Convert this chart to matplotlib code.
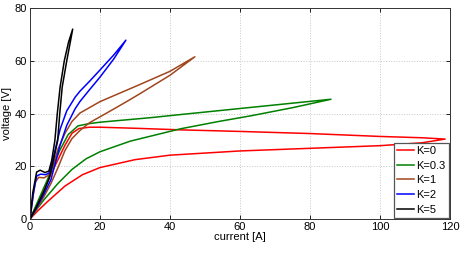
import matplotlib
matplotlib.use("Agg")
import matplotlib.pyplot as plt

# current [A] / voltage [V] along each branch, from origin to the tip of the loop
k_labels = ["K=0", "K=0.3", "K=1", "K=2", "K=5"]

k0_up_i = [0, 3, 6, 8, 10, 12, 14, 17, 20, 30, 43, 60, 80, 100, 112, 118.6]
k0_up_v = [0, 8, 17, 22.5, 28, 32.5, 34.3, 34.8, 34.8, 34.4, 33.8, 33.2, 32.4, 31.3, 30.8, 30.3]
k0_lo_i = [0, 2, 5, 10, 15, 20, 30, 40, 60, 80, 100, 112, 118.6]
k0_lo_v = [0, 2.8, 6.6, 12.5, 16.8, 19.5, 22.5, 24.2, 25.8, 26.8, 27.8, 28.9, 30.3]

k03_up_i = [0, 3, 6, 8.5, 10.9, 13.7, 16.6, 20, 34.3, 43, 63, 86]
k03_up_v = [0, 9, 18, 26, 32, 35.3, 36.1, 36.7, 38.4, 39.6, 42.3, 45.4]
k03_lo_i = [0, 2, 4, 8, 12, 16, 20, 28.6, 43, 54, 63, 75, 86]
k03_lo_v = [0, 3.8, 7.3, 13.5, 18.8, 22.8, 25.5, 29.5, 34.2, 37, 39.1, 42.2, 45.4]

k1_up_i = [0, 0.8, 1.5, 2.5, 4, 5.2, 6.5, 8, 10, 12, 14.3, 20, 31.4, 40, 47.1]
k1_up_v = [0, 8, 14, 15.8, 15.6, 16.5, 20, 26.5, 32.5, 37, 40.2, 44.5, 51, 56, 61.5]
k1_lo_i = [0, 2, 4, 6, 8, 10, 12, 14.3, 17, 23, 27.6, 31.4, 40, 47.1]
k1_lo_v = [0, 4, 8.5, 13.5, 19.5, 26, 30.5, 33.6, 36.5, 41, 44.5, 47.5, 54.5, 61.5]

k2_up_i = [0, 1, 1.9, 3, 4.5, 5.5, 6.2, 7.6, 8.6, 10.5, 12.9, 14.3, 17, 20, 24, 27.4]
k2_up_v = [0, 10, 16.3, 17, 16.8, 17.5, 21, 28.5, 34, 41, 46.2, 48.5, 52.2, 56.5, 62.3, 67.8]
k2_lo_i = [0, 2, 4, 6, 7.3, 8.6, 10.5, 12.9, 14.3, 17, 20, 24, 27.4]
k2_lo_v = [0, 4.5, 9.5, 15, 21.5, 28, 35.5, 41.8, 44.6, 49, 53.8, 60.8, 67.8]

k5_up_i = [0, 0.8, 1.9, 2.9, 4.3, 5.4, 6.2, 7.1, 7.8, 8.6, 9.8, 11, 12.2]
k5_up_v = [0, 10, 17.8, 18.5, 17.6, 18.2, 22.2, 29.7, 40, 50, 60, 67, 72]
k5_lo_i = [0, 2, 4, 5.5, 6.7, 7.9, 8.5, 9.2, 10.5, 11.5, 12.2]
k5_lo_v = [0, 5, 10.5, 15.5, 22.2, 29.7, 40, 50, 60, 67, 72]

x_ticks = [0, 20, 40, 60, 80, 100, 120]
y_ticks = [0, 20, 40, 60, 80]

colors = ["#FF0000", "#008000", "#A0461E", "#0000FF", "#000000"]

branches = [
    (k0_up_i, k0_up_v, k0_lo_i, k0_lo_v),
    (k03_up_i, k03_up_v, k03_lo_i, k03_lo_v),
    (k1_up_i, k1_up_v, k1_lo_i, k1_lo_v),
    (k2_up_i, k2_up_v, k2_lo_i, k2_lo_v),
    (k5_up_i, k5_up_v, k5_lo_i, k5_lo_v),
]

plt.rcParams["font.family"] = ["Liberation Sans", "DejaVu Sans"]
plt.rcParams["font.size"] = 8

fig = plt.figure(figsize=(4.71, 2.56), dpi=100)
ax = fig.add_axes([30 / 471, 1 - 219 / 256, 420 / 471, 211 / 256])

for (ui, uv, li, lv), col, lab in zip(branches, colors, k_labels):
    # loop: lower branch out to the tip, upper branch back to the origin
    xs = list(li) + list(ui[::-1])
    ys = list(lv) + list(uv[::-1])
    ax.plot(xs, ys, color=col, linewidth=1.1, label=lab,
            solid_joinstyle="round")

ax.set_xlim(0, 120)
ax.set_ylim(0, 80)
ax.set_xticks(x_ticks)
ax.set_yticks(y_ticks)
ax.tick_params(direction="in", top=True, right=True, length=3, width=0.6, pad=2)
ax.grid(True, color="#C8C8C8", linestyle=":", linewidth=0.7)
for s in ax.spines.values():
    s.set_linewidth(0.7)
    s.set_color("#333333")

ax.set_xlabel("current [A]", labelpad=0)
ax.set_ylabel("voltage [V]", labelpad=2)

leg = ax.legend(loc="lower right", borderaxespad=0.1, fancybox=False,
                framealpha=1, edgecolor="#555555", handlelength=1.5,
                handletextpad=0.2, labelspacing=0.42, borderpad=0.3)
leg.get_frame().set_linewidth(0.9)

fig.savefig("out.png", dpi=100)
